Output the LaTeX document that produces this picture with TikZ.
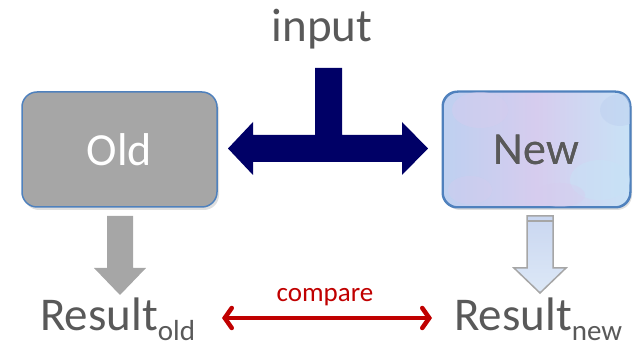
\documentclass[tikz,border=0pt]{standalone}
\usepackage{fontspec}
\setmainfont{Carlito}
\usetikzlibrary{arrows.meta,shadows}
\definecolor{navy}{RGB}{0,0,102}
\definecolor{oldgray}{RGB}{166,166,166}
\definecolor{boxblue}{RGB}{79,129,189}
\definecolor{txtgray}{RGB}{89,89,89}
\definecolor{cmpred}{RGB}{192,0,0}
\definecolor{newA}{RGB}{190,208,240}
\definecolor{newB}{RGB}{214,204,238}
\definecolor{newC}{RGB}{200,226,246}
\definecolor{arrowblue}{RGB}{198,217,241}
\tikzset{
  box/.style={rounded corners=15pt, draw=boxblue, line width=1.5pt,
    minimum height=115pt, font=\fontsize{46}{50}\selectfont,
    drop shadow={opacity=0.25, shadow xshift=2pt, shadow yshift=-3pt}},
  oldbox/.style={box, fill=oldgray, text=white, minimum width=195pt},
  newbox/.style={box, minimum width=187pt, text=txtgray,
    left color=newA, right color=newC, middle color=newB},
  restext/.style={text=txtgray, inner sep=0pt, anchor=base west, font=\fontsize{47}{50}\selectfont},
}
\newcommand{\subtxt}[1]{\raisebox{-10pt}{\fontsize{29}{30}\selectfont #1}}
\begin{document}
\begin{tikzpicture}[x=1pt,y=-1pt]
\useasboundingbox (0,0) rectangle (633,347);
% boxes
\node[oldbox] (old) at (119.5,149.5) {Old};
\node[newbox] (new) at (536.5,149.5) {New};
% texture blobs on New box
\begin{scope}
  \clip[rounded corners=15pt] (new.south west) rectangle (new.north east);
  \fill[newB, opacity=0.45] (480,110) ellipse (28 and 18);
  \fill[newC, opacity=0.5] (600,180) ellipse (30 and 20);
  \fill[newB, opacity=0.4] (560,195) ellipse (25 and 12);
  \fill[newA, opacity=0.5] (620,110) ellipse (20 and 16);
  \fill[newB, opacity=0.35] (470,190) ellipse (22 and 14);
\end{scope}
\node[text=txtgray, font=\fontsize{46}{50}\selectfont] at (new.center) {New};
\draw[boxblue, line width=1.5pt, rounded corners=15pt] (new.south west) rectangle (new.north east);
% input
\node[text=txtgray, font=\fontsize{47}{50}\selectfont, anchor=base, inner sep=0pt] (input) at (322,42) {input};
% T arrow
\fill[navy] (315,68) -- (342,68) -- (342,135) -- (402,135) -- (402,122) -- (428,148.5)
  -- (402,175) -- (402,162) -- (253,162) -- (253,175) -- (228,148.5) -- (253,122)
  -- (253,135) -- (315,135) -- cycle;
% results
\node[restext] (ro) at (40,331) {Result\subtxt{old}};
\node[restext] (rn) at (454,331) {Result\subtxt{new}};
% down arrows
\fill[oldgray] (107,216) -- (133,216) -- (133,268) -- (146,268) -- (120,295) -- (94,268) -- (107,268) -- cycle;
\draw[oldgray, line width=1.5pt, top color=arrowblue!80!newB, bottom color=arrowblue!60!white, line join=miter]
  (527,216) -- (553,216) -- (553,268) -- (566,268) -- (540,293) -- (514,268) -- (527,268) -- cycle;
\draw[oldgray, line width=1.5pt] (527,221) -- (553,221);
% compare
\coordinate (cl) at (222,318);
\coordinate (cr) at (432,318);
\draw[cmpred, line width=4.5pt, {Straight Barb[length=7pt,width=20pt,line cap=round]}-{Straight Barb[length=7pt,width=20pt,line cap=round]}] (cl) -- (cr);
\node[text=cmpred, font=\fontsize{27}{28}\selectfont, anchor=base, inner sep=0pt] (cmp) at (325,302) {compare};
\end{tikzpicture}
\end{document}
